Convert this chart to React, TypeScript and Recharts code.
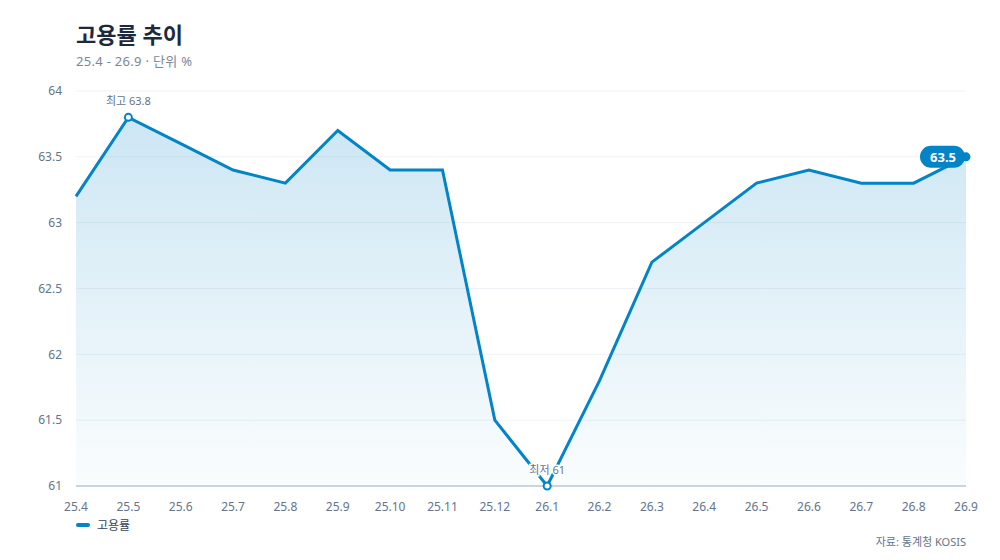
import { AreaChart, Area, XAxis, YAxis, CartesianGrid } from 'recharts';

const months = ['25.4', '25.5', '25.6', '25.7', '25.8', '25.9', '25.10', '25.11', '25.12', '26.1', '26.2', '26.3', '26.4', '26.5', '26.6', '26.7', '26.8', '26.9'];
const rates = [63.2, 63.8, 63.6, 63.4, 63.3, 63.7, 63.4, 63.4, 61.5, 61.0, 61.8, 62.7, 63.0, 63.3, 63.4, 63.3, 63.3, 63.5];
const yTicks = [61, 61.5, 62, 62.5, 63, 63.5, 64];

const data = months.map((m, i) => ({ month: m, rate: rates[i] }));

const FONT = '"Noto Sans", "Noto Sans CJK KR", sans-serif';
const BLUE = '#0284c7';

const maxIdx = rates.indexOf(Math.max(...rates));
const minIdx = rates.indexOf(Math.min(...rates));
const lastIdx = rates.length - 1;

const renderDot = (props: any) => {
    const { cx, cy, index } = props;
    if (index === maxIdx || index === minIdx) {
        const label = index === maxIdx ? `최고 ${rates[index]}` : `최저 ${rates[index]}`;
        return (
            <g key={`d${index}`}>
                <circle cx={cx} cy={cy} r={3.5} fill="#fff" stroke={BLUE} strokeWidth={2} />
                <text
                    x={cx}
                    y={cy - 12}
                    textAnchor="middle"
                    fontSize={11}
                    fill="#64748b"
                    stroke="#fff"
                    strokeWidth={3}
                    paintOrder="stroke"
                    fontFamily={FONT}
                >
                    {label}
                </text>
            </g>
        );
    }
    if (index === lastIdx) {
        return (
            <g key={`d${index}`}>
                <circle cx={cx} cy={cy} r={4.5} fill={BLUE} />
                <rect x={cx - 46} y={cy - 11} width={45} height={22} rx={11} fill={BLUE} />
                <text x={cx - 23} y={cy + 5} textAnchor="middle" fontSize={13} fontWeight={700} fill="#fff" fontFamily={FONT}>
                    {rates[index]}
                </text>
            </g>
        );
    }
    return <g key={`d${index}`} />;
};

export default function App() {
    return (
        <div style={{ position: 'absolute', left: 0, top: 0, width: 1000, height: 560, background: '#fff', fontFamily: FONT }}>
            <div style={{ position: 'absolute', left: 76, top: 17, fontSize: 22, fontWeight: 700, color: '#1e293b' }}>고용률 추이</div>
            <div style={{ position: 'absolute', left: 76, top: 51, fontSize: 13, letterSpacing: 0.3, color: '#7b8798' }}>25.4 - 26.9 · 단위 %</div>
            <AreaChart
                width={1000}
                height={560}
                data={data}
                margin={{ top: 91, right: 34, left: 6, bottom: 44 }}
            >
                <defs>
                    <linearGradient id="rateFill" x1="0" y1="0" x2="0" y2="1">
                        <stop offset="0%" stopColor={BLUE} stopOpacity={0.2} />
                        <stop offset="100%" stopColor={BLUE} stopOpacity={0.02} />
                    </linearGradient>
                </defs>
                <CartesianGrid vertical={false} stroke="#eef2f6" />
                <XAxis
                    dataKey="month"
                    tick={{ fontSize: 12, fill: '#64748b', fontFamily: FONT }}
                    tickLine={false}
                    axisLine={{ stroke: '#cbd5e1', strokeWidth: 2 }}
                    tickMargin={10}
                    interval={0}
                />
                <YAxis
                    domain={[61, 64]}
                    ticks={yTicks}
                    width={70}
                    tick={{ fontSize: 12, fill: '#64748b', fontFamily: FONT }}
                    tickLine={false}
                    axisLine={false}
                    tickMargin={8}
                />
                <Area
                    type="linear"
                    dataKey="rate"
                    name="고용률"
                    stroke={BLUE}
                    strokeWidth={3}
                    fill="url(#rateFill)"
                    fillOpacity={1}
                    dot={renderDot}
                    activeDot={false}
                    isAnimationActive={false}
                />
            </AreaChart>
            <div style={{ position: 'absolute', left: 76, top: 516, display: 'flex', alignItems: 'center', fontSize: 12, color: '#334155' }}>
                <span style={{ display: 'inline-block', width: 14, height: 4, borderRadius: 2, background: BLUE, marginRight: 7 }} />
                고용률
            </div>
            <div style={{ position: 'absolute', right: 34, top: 533, fontSize: 11, color: '#64748b' }}>자료: 통계청 KOSIS</div>
        </div>
    );
}
